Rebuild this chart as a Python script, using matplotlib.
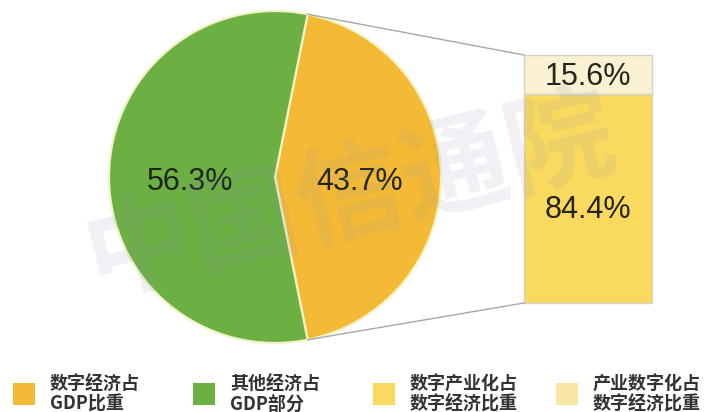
import numpy as np
import matplotlib
matplotlib.use("Agg")
import matplotlib.pyplot as plt
from matplotlib.patches import Rectangle

plt.rcParams['font.family'] = ['Noto Sans CJK SC', 'DejaVu Sans']

pie_labels = ['数字经济占\nGDP比重', '其他经济占\nGDP部分']
pie_values = [43.7, 56.3]
pie_colors = ['#F5BA35', '#6CB043']

bar_labels = ['数字产业化占\n数字经济比重', '产业数字化占\n数字经济比重']
bar_values = [84.4, 15.6]
bar_colors = ['#F9DA5E', '#F9F1D2']

W, H = 712, 412
fig = plt.figure(figsize=(W / 100, H / 100), dpi=100)
ax = fig.add_axes([0, 0, 1, 1])

# pie, orange slice centred on the right
cx, cy, r = 275, 235, 166
start = -pie_values[0] * 3.6 / 2
wedges, _, autotexts = ax.pie(
    pie_values, colors=pie_colors, startangle=start, counterclock=True,
    center=(cx, cy), radius=r, autopct='%.1f%%', pctdistance=0.51,
    wedgeprops=dict(edgecolor='#F2F3C4', linewidth=1.6),
    textprops=dict(fontsize=22, color='#1f2418', family='Liberation Sans'),
    frame=True)
for t in autotexts:
    x, y = t.get_position()
    t.set_position((x, y - 5))
ax.set_xlim(0, W)
ax.set_ylim(0, H)
ax.set_aspect('equal')
ax.axis('off')

# bar of pie
bx0, bx1 = 524, 652
by0, by1 = 109, 357
bh = by1 - by0
bottom = by0
for v, c in zip(bar_values, bar_colors):
    h = v / sum(bar_values) * bh
    ax.bar((bx0 + bx1) / 2, h, width=bx1 - bx0, bottom=bottom, color=c,
           edgecolor='#d2d2c8', linewidth=1)
    dy = -3 if v < 50 else -12
    ax.text((bx0 + bx1) / 2, bottom + h / 2 + dy, f'{v:.1f}%',
            ha='center', va='center', fontsize=22, color='#26241c',
            family='Liberation Sans')
    bottom += h

# connector lines from the orange slice edges to the bar
a = np.deg2rad(pie_values[0] * 3.6 / 2)
ax.plot([cx + r * np.cos(a), bx0], [cy + r * np.sin(a), by1], color='#a8a8a8', lw=1)
ax.plot([cx + r * np.cos(-a), bx0], [cy + r * np.sin(-a), by0], color='#a8a8a8', lw=1)

# legend drawn by hand
leg_labels = pie_labels + bar_labels
leg_colors = pie_colors + bar_colors[:1] + ['#F8E6A4']
leg_x = [13, 193, 373, 556]
for x, lab, c in zip(leg_x, leg_labels, leg_colors):
    ax.add_patch(Rectangle((x, 7), 22, 22, facecolor=c, edgecolor='none'))
    ax.text(x + 37, 18, lab, ha='left', va='center', fontsize=13,
            fontweight='bold', color='#333333', linespacing=1.05)

# faint watermark
ax.text(350, 215, '中国信通院', ha='center', va='center', fontsize=78,
        fontweight='bold', color='#8890b0', alpha=0.12, rotation=14, zorder=10)

fig.savefig('out.png', dpi=100)
